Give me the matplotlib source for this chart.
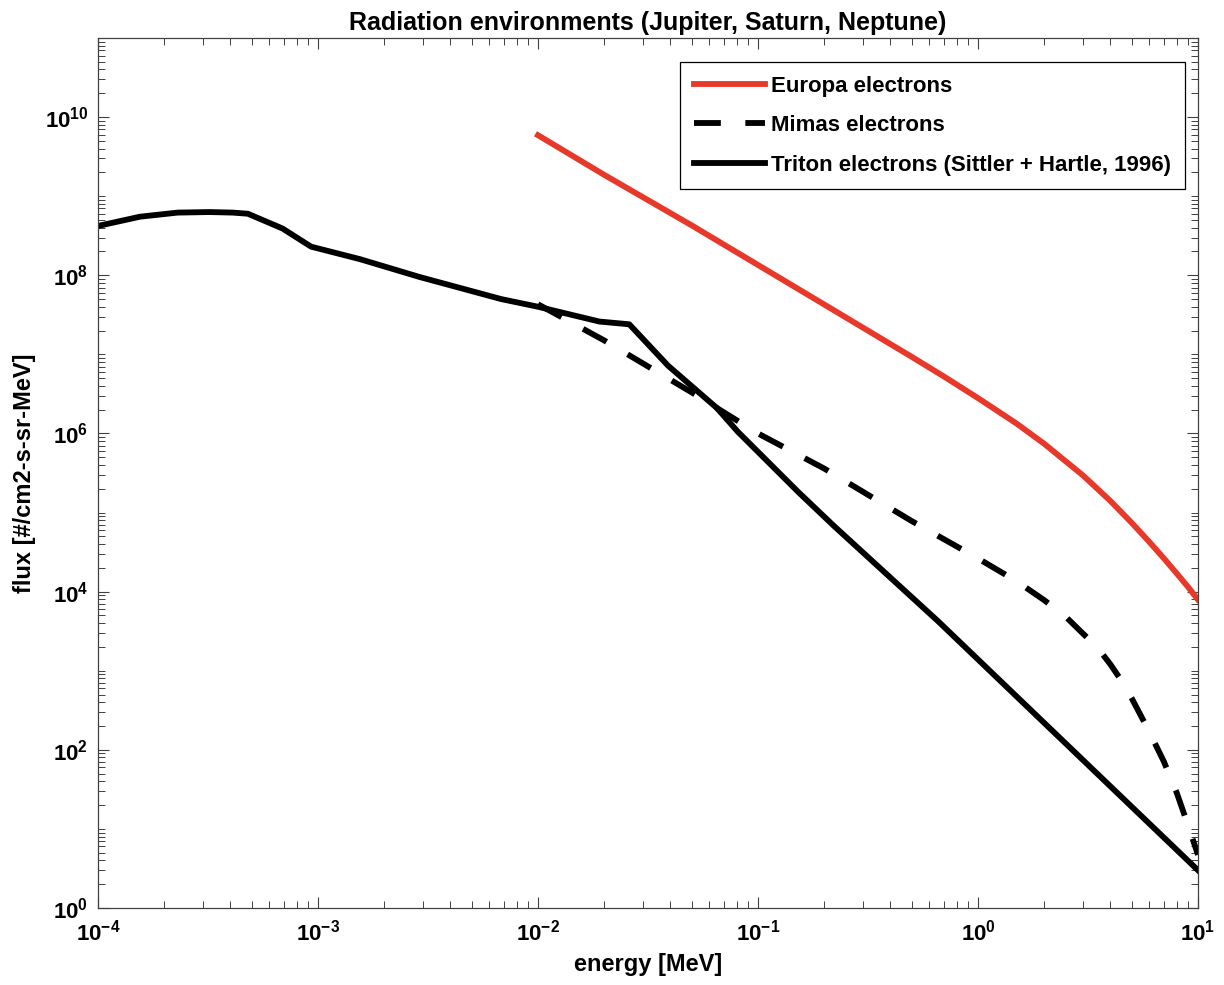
import numpy as np
import matplotlib
matplotlib.use('Agg')
from matplotlib import pyplot as plt
from matplotlib.ticker import LogLocator, NullFormatter

plt.rcParams['font.family'] = ['Liberation Sans', 'DejaVu Sans']
plt.rcParams['font.weight'] = 'bold'
plt.rcParams['mathtext.fontset'] = 'custom'
plt.rcParams['mathtext.rm'] = 'Liberation Sans:bold'
plt.rcParams['mathtext.bf'] = 'Liberation Sans:bold'
plt.rcParams['mathtext.it'] = 'Liberation Sans:bold'
plt.rcParams['axes.unicode_minus'] = False

# electron spectra: energy [MeV], flux [#/cm2-s-sr-MeV]
europa_energy = [0.01, 0.02, 0.05, 0.1, 0.2, 0.5, 0.7, 1.0, 1.5, 2.0, 3.0, 4.0, 5.0, 6.0, 7.0,
                 8.0, 9.0, 10.0]
europa_flux = [5.9e9, 1.86e9, 4.27e8, 1.35e8, 4.27e7, 9.3e6, 5.25e6, 2.8e6, 1.33e6, 7.4e5,
               2.95e5, 1.4e5, 7.4e4, 4.27e4, 2.63e4, 1.7e4, 1.15e4, 7.9e3]

mimas_energy = [0.01, 0.02, 0.05, 0.1, 0.2, 0.5, 1.0, 1.5, 2.0, 2.5, 3.0, 3.5, 4.0, 4.5, 5.0,
                6.0, 7.0, 8.0, 9.0, 10.0]
mimas_flux = [4.3e7, 1.5e7, 3.3e6, 1.0e6, 3.6e5, 7.8e4, 2.63e4, 1.35e4, 7.8e3, 4.84e3, 2.95e3,
              1.95e3, 1.2e3, 741, 447, 170, 70.8, 28.8, 11.2, 4.7]

triton_energy = [1.0e-4, 1.55e-4, 2.3e-4, 3.2e-4, 4.1e-4, 4.8e-4, 6.9e-4, 9.3e-4, 1.55e-3, 2.9e-3,
                 6.8e-3, 1.0e-2, 1.9e-2, 2.6e-2, 3.9e-2, 6.5e-2, 8.1e-2, 0.153, 0.221, 0.66, 10.0]
triton_flux = [4.2e8, 5.5e8, 6.2e8, 6.3e8, 6.2e8, 6.0e8, 3.9e8, 2.3e8, 1.6e8, 9.5e7,
               5.0e7, 4.0e7, 2.6e7, 2.4e7, 7.2e6, 2.1e6, 1.05e6, 1.8e5, 6.8e4, 4.2e3, 3.0]

labels = ['Europa electrons', 'Mimas electrons', 'Triton electrons (Sittler + Hartle, 1996)']

fig = plt.figure(figsize=(12.24, 9.85), dpi=100)
ax = fig.add_axes([98 / 1224, 77 / 985, 1100 / 1224, 870 / 985])

ax.loglog(europa_energy, europa_flux, color='#e8382a', lw=4.2, label=labels[0])
ax.loglog(mimas_energy, mimas_flux, color='black', lw=4.2, dashes=(4.6, 4.2), label=labels[1])
ax.loglog(triton_energy, triton_flux, color='black', lw=4.2, label=labels[2])

ax.set_xlim(1e-4, 1e1)
ax.set_ylim(1e0, 1e11)
ax.set_yticks([1e0, 1e2, 1e4, 1e6, 1e8, 1e10])
ax.xaxis.set_minor_locator(LogLocator(base=10, subs=np.arange(2, 10), numticks=20))
ax.yaxis.set_minor_locator(LogLocator(base=10, subs=np.arange(1, 10), numticks=30))
ax.xaxis.set_minor_formatter(NullFormatter())
ax.yaxis.set_minor_formatter(NullFormatter())

ax.tick_params(which='both', direction='in', top=True, right=True, color='#404040', labelsize=16)
ax.tick_params(which='major', length=8, width=0.8)
ax.tick_params(which='minor', length=5, width=0.7)
ax.tick_params(axis='x', pad=8)
ax.tick_params(axis='y', pad=7)
for s in ax.spines.values():
    s.set_color('#404040')
    s.set_linewidth(0.9)

ax.set_xlabel('energy [MeV]', fontsize=17, fontweight='bold', labelpad=6)
ax.set_ylabel('flux [#/cm2-s-sr-MeV]', fontsize=17, fontweight='bold', labelpad=6)
ax.set_title('Radiation environments (Jupiter, Saturn, Neptune)', fontsize=18, fontweight='bold', pad=6)

leg = ax.legend(loc='upper right', bbox_to_anchor=(0.988, 0.972), borderaxespad=0,
                fontsize=16, handlelength=3.2, handletextpad=0.3, labelspacing=0.83,
                fancybox=False, framealpha=1, edgecolor='black', borderpad=0.6)
leg.get_frame().set_linewidth(0.9)

fig.savefig('out.png', dpi=100)
